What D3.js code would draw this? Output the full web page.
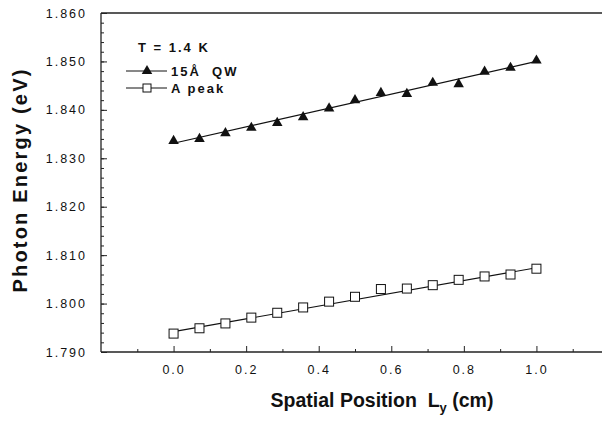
<!DOCTYPE html>
<html>
<head>
<meta charset="utf-8">
<script src="https://cdn.jsdelivr.net/npm/d3@7"></script>
<style>
  body { margin: 0; background: #fff; overflow: hidden; }
  svg { display: block; }
  text { font-family: "Liberation Sans", Arial, sans-serif; fill: #111; }
</style>
</head>
<body>
<div id="chart"></div>
<script>
// positions L_y (cm), 15 points from 0 to 1
const positions = [0, 0.0714, 0.1429, 0.2143, 0.2857, 0.3571, 0.4286, 0.5, 0.5714, 0.6429, 0.7143, 0.7857, 0.8571, 0.9286, 1.0]
const qwEnergy = [1.8336, 1.8340, 1.8352, 1.8363, 1.8373, 1.8385, 1.8403, 1.8420, 1.8435, 1.8433, 1.8456, 1.8453, 1.8479, 1.8487, 1.8502]
const aPeakEnergy = [1.7938, 1.7949, 1.7959, 1.7971, 1.7981, 1.7992, 1.8004, 1.8014, 1.8030, 1.8031, 1.8038, 1.8049, 1.8056, 1.8060, 1.8072]
// straight-line fits, value at L_y = 0 and L_y = 1
const fitX = [0, 1.0]
const qwFit = [1.8331, 1.8500]
const aPeakFit = [1.7942, 1.8074]
const xTicks = [0, 0.2, 0.4, 0.6, 0.8, 1.0]
const yTicks = [1.79, 1.80, 1.81, 1.82, 1.83, 1.84, 1.85, 1.86]

const margin = {top: 13, right: -4, bottom: 70, left: 101},
  width = 605 - margin.left - margin.right,
  height = 422 - margin.top - margin.bottom;

const x = d3.scaleLinear().domain([-0.2, 1.2]).range([0, width])
const y = d3.scaleLinear().domain([1.79, 1.86]).range([height, 0])

const svg = d3.select("#chart")
  .append("svg")
    .attr("width", 605)
    .attr("height", 422)
  .append("g")
    .attr("transform", "translate(" + margin.left + "," + margin.top + ")");

//frame: top, left, bottom (right side runs off the page)
const frameEnd = width - 7
svg.append("line").attr("x1", 0).attr("x2", frameEnd).attr("y1", 0).attr("y2", 0)
  .attr("stroke", "#222").attr("stroke-width", 1.3)
svg.append("line").attr("x1", 0).attr("x2", 0).attr("y1", 0).attr("y2", height)
  .attr("stroke", "#222").attr("stroke-width", 1.3)
svg.append("line").attr("x1", 0).attr("x2", frameEnd).attr("y1", height).attr("y2", height)
  .attr("stroke", "#222").attr("stroke-width", 1.3)

//minor ticks
svg.append("g")
  .call(d3.axisLeft(y).tickValues(d3.range(1.792, 1.86, 0.002)).tickSize(-3).tickFormat(""))
  .call(g => g.select(".domain").remove())
svg.append("g")
  .attr("transform", "translate(0," + height + ")")
  .call(d3.axisBottom(x).tickValues([-0.1, 0.1, 0.3, 0.5, 0.7, 0.9, 1.1]).tickSize(-3).tickFormat(""))
  .call(g => g.select(".domain").remove())

//y axis
svg.append("g")
  .call(d3.axisLeft(y).tickValues(yTicks).tickSize(-6).tickPadding(14)
    .tickFormat(d3.format(".3f")))
  .call(g => g.select(".domain").remove())
  .selectAll("text")
    .style("font-size", "12.5px").style("letter-spacing", "2px")

//x axis
svg.append("g")
  .attr("transform", "translate(0," + height + ")")
  .call(d3.axisBottom(x).tickValues(xTicks).tickSize(-6).tickPadding(13)
    .tickFormat(d3.format(".1f")))
  .call(g => g.select(".domain").remove())
  .selectAll("text")
    .style("font-size", "12.5px").style("letter-spacing", "2px")

svg.selectAll(".tick line").attr("stroke", "#222")

//fit lines
const line = d3.line().x(d => x(d[0])).y(d => y(d[1]))
svg.append("path").datum(d3.zip(fitX, qwFit))
  .attr("d", line).attr("fill", "none").attr("stroke", "#111").attr("stroke-width", 1.2)
svg.append("path").datum(d3.zip(fitX, aPeakFit))
  .attr("d", line).attr("fill", "none").attr("stroke", "#111").attr("stroke-width", 1.2)

//markers
const tri = d3.symbol().type(d3.symbolTriangle).size(48)
svg.selectAll(".qw")
  .data(d3.zip(positions, qwEnergy))
  .enter()
  .append("path")
    .attr("class", "qw")
    .attr("d", tri)
    .attr("transform", d => "translate(" + x(d[0]) + "," + y(d[1]) + ")")
    .attr("fill", "#111")

svg.selectAll(".apeak")
  .data(d3.zip(positions, aPeakEnergy))
  .enter()
  .append("rect")
    .attr("class", "apeak")
    .attr("x", d => x(d[0]) - 4.5)
    .attr("y", d => y(d[1]) - 4.5)
    .attr("width", 9).attr("height", 9)
    .attr("fill", "#fff").attr("stroke", "#111").attr("stroke-width", 1)

//legend
const legend = svg.append("g").attr("transform", "translate(25,0)")
legend.append("text").attr("x", 12).attr("y", 39)
  .style("font-size", "13px").style("font-weight", "bold").style("letter-spacing", "2px")
  .text("T = 1.4 K")
legend.append("line").attr("x1", 0).attr("x2", 41).attr("y1", 58).attr("y2", 58)
  .attr("stroke", "#111")
legend.append("path").attr("d", tri).attr("transform", "translate(21,58)").attr("fill", "#111")
legend.append("text").attr("x", 45).attr("y", 63)
  .style("font-size", "13px").style("font-weight", "bold").style("letter-spacing", "2px")
  .text("15Å\u00a0\u00a0QW")
legend.append("line").attr("x1", 0).attr("x2", 41).attr("y1", 75).attr("y2", 75)
  .attr("stroke", "#111")
legend.append("rect").attr("x", 17).attr("y", 71).attr("width", 8).attr("height", 8)
  .attr("fill", "#fff").attr("stroke", "#111")
legend.append("text").attr("x", 45).attr("y", 80)
  .style("font-size", "13px").style("font-weight", "bold").style("letter-spacing", "2px")
  .text("A peak")

//axis titles
svg.append("text")
  .attr("transform", "translate(-74," + (height / 2 - 2.5) + ") rotate(-90)")
  .attr("text-anchor", "middle")
  .style("font-size", "20px").style("font-weight", "bold").style("letter-spacing", "2.2px")
  .text("Photon Energy (eV)")

const xt = svg.append("text")
  .attr("x", 281).attr("y", height + 55)
  .attr("text-anchor", "middle")
  .style("font-size", "19.5px").style("font-weight", "bold")
xt.append("tspan").text("Spatial Position\u00a0\u00a0L")
xt.append("tspan").attr("dy", 5).style("font-size", "13px").text("y")
xt.append("tspan").attr("dy", -5).text(" (cm)")
</script>
</body>
</html>
